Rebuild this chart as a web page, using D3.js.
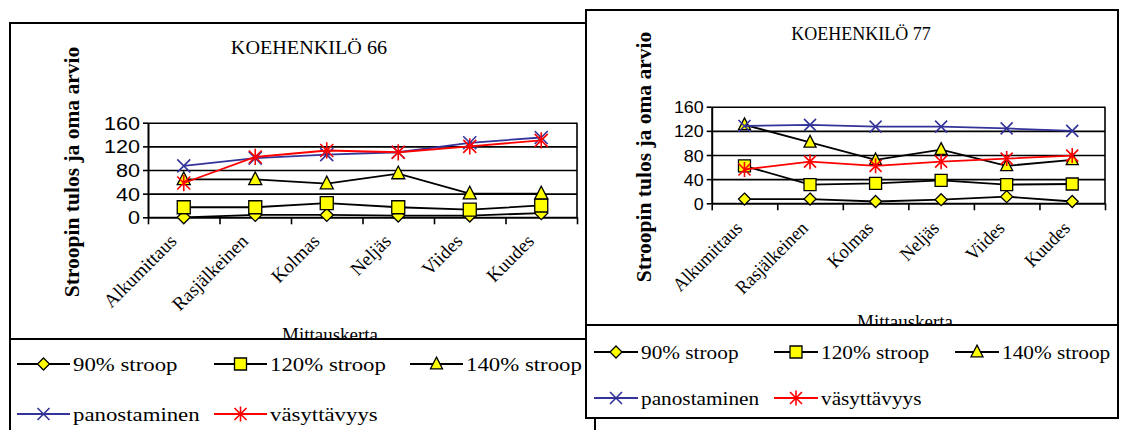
<!DOCTYPE html>
<html>
<head>
<meta charset="utf-8">
<script src="https://cdn.jsdelivr.net/npm/d3@7"></script>
<style>
  body { margin: 0; background: #fff; }
  svg { display: block; }
</style>
</head>
<body>
<svg id="chart" width="1121" height="430"></svg>
<script>
// Measurement rounds (x axis) and value ticks (y axis)
const categories = ["Alkumittaus", "Rasjälkeinen", "Kolmas", "Neljäs", "Viides", "Kuudes"];
const yTicks = [0, 40, 80, 120, 160];
const seriesNames = ["90% stroop", "120% stroop", "140% stroop", "panostaminen", "väsyttävyys"];

// Koehenkilö 66
const kh66Stroop90 = [0, 4, 4, 3, 3, 7];
const kh66Stroop120 = [17, 17, 24, 17, 13, 20];
const kh66Stroop140 = [64, 64, 57, 74, 40, 40];
const kh66Panostaminen = [87, 100, 106, 110, 126, 135];
const kh66Vasyttavyys = [58, 102, 113, 110, 120, 130];

// Koehenkilö 77
const kh77Stroop90 = [7, 7, 3, 6, 11, 3];
const kh77Stroop120 = [62, 31, 33, 38, 31, 32];
const kh77Stroop140 = [130, 101, 72, 89, 62, 72];
const kh77Panostaminen = [128, 130, 127, 127, 124, 120];
const kh77Vasyttavyys = [56, 69, 62, 69, 74, 79];

const seriesStyles = [
  { marker: "diamond",  line: "#000",    fill: "#ffff00", stroke: "#000" },
  { marker: "square",   line: "#000",    fill: "#ffff00", stroke: "#000" },
  { marker: "triangle", line: "#000",    fill: "#ffff00", stroke: "#000" },
  { marker: "cross",    line: "#333399", fill: "none",    stroke: "#333399" },
  { marker: "star",     line: "#ff0000", fill: "none",    stroke: "#ff0000" }
];

const SERIF = "'Liberation Serif', 'Times New Roman', serif";
const SANS = "'Liberation Sans', Arial, sans-serif";

const svg = d3.select("#chart");

function markerPath(type, r) {
  switch (type) {
    case "diamond":  return `M0,${-r}L${r},0L0,${r}L${-r},0Z`;
    case "square":   return `M${-r},${-r}H${r}V${r}H${-r}Z`;
    case "triangle": return `M0,${-r * 1.15}L${r},${r * 0.8}L${-r},${r * 0.8}Z`;
    case "cross":    return `M${-r},${-r}L${r},${r}M${-r},${r}L${r},${-r}`;
    case "star":     return `M${-r},${-r}L${r},${r}M${-r},${r}L${r},${-r}M0,${-r * 1.25}V${r * 1.25}`;
  }
}

// Stretch or squeeze text horizontally by a factor along its own direction
function stretch(sel, sx) {
  sel.each(function () {
    const w = this.getComputedTextLength();
    d3.select(this).attr("textLength", w * sx).attr("lengthAdjust", "spacingAndGlyphs");
  });
}

function drawMarker(g, style, x, y, r) {
  const filled = style.fill !== "none";
  g.append("path")
    .attr("transform", `translate(${x},${y})`)
    .attr("d", markerPath(style.marker, r))
    .attr("fill", style.fill)
    .attr("stroke", style.stroke)
    .attr("stroke-width", filled ? 1.3 : 1.6)
    .attr("stroke-linejoin", "miter");
}

function drawChart(cfg) {
  const root = svg.append("g");

  // Outer chart frame
  root.append("rect")
    .attr("x", cfg.frame.x).attr("y", cfg.frame.y)
    .attr("width", cfg.frame.w).attr("height", cfg.frame.h)
    .attr("fill", "#fff").attr("stroke", "#000").attr("stroke-width", 2);

  // Title
  const title = root.append("text")
    .attr("x", cfg.title.x).attr("y", cfg.title.y)
    .attr("text-anchor", "middle")
    .attr("font-family", SERIF).attr("font-size", cfg.title.size)
    .text(cfg.title.text);
  stretch(title, cfg.title.sx);

  // Y axis title
  const yTitle = root.append("text")
    .attr("transform", `translate(${cfg.yTitle.x},${cfg.yTitle.y}) rotate(-90)`)
    .attr("text-anchor", "middle")
    .attr("font-family", SERIF).attr("font-weight", "bold")
    .attr("font-size", cfg.yTitle.size)
    .text("Stroopin tulos ja oma arvio");
  stretch(yTitle, cfg.yTitle.sx);

  const p = cfg.plot;
  const x = d3.scaleBand().domain(categories).range([p.x0, p.x1]);
  const xEdge = d3.scaleLinear().domain([0, categories.length]).range([p.x0, p.x1]);
  const y = d3.scaleLinear().domain([0, 160]).range([p.y1, p.y0]);

  // Gridlines
  const grid = root.append("g")
    .attr("transform", `translate(${p.x0},0)`)
    .call(d3.axisLeft(y).tickValues(yTicks.filter(t => t > 0)).tickSize(-(p.x1 - p.x0)).tickFormat(""));
  grid.select(".domain").remove();
  grid.selectAll("line").attr("stroke", "#000").attr("stroke-width", 1.6);

  // Right edge of the plot area
  root.append("line")
    .attr("x1", p.x1).attr("x2", p.x1).attr("y1", y(160)).attr("y2", y(0))
    .attr("stroke", "#000").attr("stroke-width", 1.6);

  // Y axis
  const yAxis = root.append("g")
    .attr("transform", `translate(${p.x0},0)`)
    .call(d3.axisLeft(y).tickValues(yTicks).tickSize(5).tickPadding(3).tickSizeOuter(0));
  yAxis.select(".domain").attr("stroke", "#000").attr("stroke-width", 2);
  yAxis.selectAll("line").attr("stroke", "#000").attr("stroke-width", 1.6);
  yAxis.selectAll("text")
    .attr("font-family", SANS).attr("font-size", cfg.tickSize).attr("fill", "#000")
    .attr("dy", "0.36em");
  stretch(yAxis.selectAll("text"), cfg.tickSx);

  // X axis: tick marks between categories
  const xAxis = root.append("g")
    .attr("transform", `translate(0,${y(0)})`)
    .call(d3.axisBottom(xEdge).tickValues(d3.range(categories.length + 1)).tickSize(7).tickSizeOuter(0).tickFormat(""));
  xAxis.select(".domain").attr("stroke", "#000").attr("stroke-width", 2);
  xAxis.selectAll("line").attr("stroke", "#000").attr("stroke-width", 1.6);

  // Category labels, rotated
  const catLabels = root.append("g").selectAll("text")
    .data(categories).join("text")
    .attr("transform", d => `translate(${x(d) + x.bandwidth() / 2 + cfg.cat.dx},${y(0) + cfg.cat.dy}) rotate(-45)`)
    .attr("text-anchor", "end")
    .attr("font-family", SERIF).attr("font-size", cfg.cat.size)
    .text(d => d);
  stretch(catLabels, cfg.cat.sx);

  // X axis title (partly covered by the legend box)
  root.append("text")
    .attr("x", cfg.xTitle.x).attr("y", cfg.xTitle.y)
    .attr("text-anchor", "middle")
    .attr("font-family", SERIF).attr("font-size", cfg.xTitle.size)
    .text("Mittauskerta");

  // Series
  const line = d3.line().x((d, i) => x(categories[i]) + x.bandwidth() / 2).y(d => y(d));
  cfg.series.forEach((vals, si) => {
    const st = seriesStyles[si];
    root.append("path")
      .attr("d", line(vals))
      .attr("fill", "none").attr("stroke", st.line).attr("stroke-width", 1.8);
    vals.forEach((v, i) => drawMarker(root, st, x(categories[i]) + x.bandwidth() / 2, y(v), cfg.markerR));
  });

  // Legend box
  const L = cfg.legend;
  root.append("rect")
    .attr("x", cfg.frame.x).attr("y", L.top)
    .attr("width", cfg.frame.w).attr("height", cfg.frame.y + cfg.frame.h - L.top)
    .attr("fill", "#fff").attr("stroke", "#000").attr("stroke-width", 2);

  seriesNames.forEach((name, i) => {
    const col = i % 3, row = Math.floor(i / 3);
    const x0 = L.cols[col], yy = L.rows[row];
    const st = seriesStyles[i];
    root.append("line")
      .attr("x1", x0).attr("x2", x0 + L.lineLen).attr("y1", yy).attr("y2", yy)
      .attr("stroke", st.line).attr("stroke-width", 1.8);
    drawMarker(root, st, x0 + L.lineLen / 2, yy, L.markerR);
    const t = root.append("text")
      .attr("x", x0 + L.lineLen + 3).attr("y", yy).attr("dy", "0.35em")
      .attr("font-family", SERIF).attr("font-size", L.size)
      .text(name);
    stretch(t, L.sx);
  });
}

// Left chart (its right side lies under the right chart)
drawChart({
  frame: { x: 10, y: 23, w: 585, h: 430 },
  title: { text: "KOEHENKILÖ 66", x: 309, y: 54, size: 18, sx: 1.12 },
  yTitle: { x: 79, y: 172, size: 21.5, sx: 1.0 },
  plot: { x0: 148, x1: 577, y0: 122.7, y1: 217.3 },
  tickSize: 18, tickSx: 1.2,
  cat: { dx: -6, dy: 25, size: 19, sx: 1.0 },
  xTitle: { x: 330, y: 341, size: 19 },
  series: [kh66Stroop90, kh66Stroop120, kh66Stroop140, kh66Panostaminen, kh66Vasyttavyys],
  markerR: 6.5,
  legend: { top: 339, rows: [364, 414], cols: [17, 214, 410], lineLen: 53, markerR: 6, size: 19, sx: 1.2 }
});

// Right chart
drawChart({
  frame: { x: 586, y: 10, w: 532, h: 408 },
  title: { text: "KOEHENKILÖ 77", x: 861, y: 40, size: 18, sx: 1.0 },
  yTitle: { x: 651, y: 157, size: 21.5, sx: 1.0 },
  plot: { x0: 711.7, x1: 1105, y0: 106.7, y1: 203.3 },
  tickSize: 17, tickSx: 1.05,
  cat: { dx: -1, dy: 26, size: 19, sx: 0.95 },
  xTitle: { x: 905, y: 328, size: 19 },
  series: [kh77Stroop90, kh77Stroop120, kh77Stroop140, kh77Panostaminen, kh77Vasyttavyys],
  markerR: 6,
  legend: { top: 325, rows: [352, 398], cols: [594, 774, 955], lineLen: 44, markerR: 6, size: 19, sx: 1.12 }
});
</script>
</body>
</html>
